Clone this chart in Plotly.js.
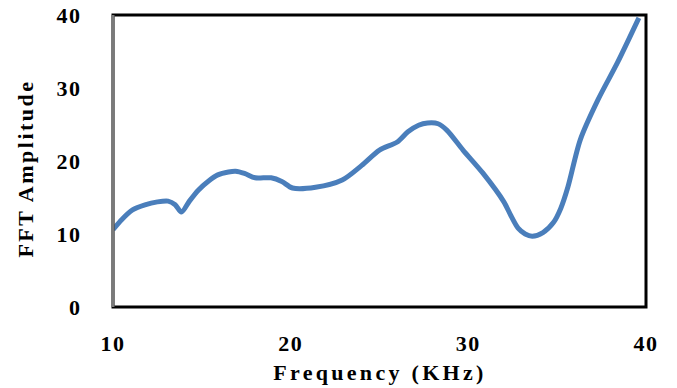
<!DOCTYPE html>
<html>
<head>
<meta charset="utf-8">
<script src="https://cdn.plot.ly/plotly-3.0.1.min.js"></script>
<style>
html,body{margin:0;padding:0;background:#fff;}
#chart{width:677px;height:388px;}
#chart .xtick text{letter-spacing:1.5px;}
#chart .ytick text{letter-spacing:1.5px;}
#chart .annotation-text.xt{letter-spacing:3.3px;}
#chart .annotation-text.yt{letter-spacing:2.5px;}
</style>
</head>
<body>
<div id="chart"></div>
<script>
// Frequency sweep (kHz) and FFT amplitude
const frequency = [10, 10.5, 11.1, 11.8, 12.5, 13.1, 13.5, 13.85, 14.3, 14.8, 15.4, 15.9, 16.5, 16.9, 17.4, 18.0, 18.9, 19.5, 20.1, 21.4, 22.9, 24.0, 25.0, 26.0, 26.6, 27.2, 27.7, 28.3, 28.8, 29.7, 30.8, 32.0, 32.4, 32.8, 33.2, 33.6, 34.2, 34.8, 35.2, 35.6, 36.3, 37.3, 38.4, 39.6];
const amplitude = [10.6, 12.0, 13.3, 14.0, 14.4, 14.5, 14.0, 13.0, 14.5, 16.0, 17.3, 18.1, 18.5, 18.6, 18.3, 17.7, 17.7, 17.2, 16.3, 16.4, 17.4, 19.4, 21.5, 22.6, 24.0, 24.9, 25.2, 25.1, 24.2, 21.5, 18.4, 14.4, 12.5, 10.8, 10.0, 9.7, 10.2, 11.6, 13.5, 16.4, 22.9, 28.4, 33.5, 39.6];
const xTicks = [10, 20, 30, 40];
const yTicks = [0, 10, 20, 30, 40];
const xTitle = 'Frequency (KHz)';
const yTitle = 'FFT Amplitude';

const serif = 'Liberation Serif, Times New Roman, serif';
const tickFont = {family: serif, size: 22, color: '#000', weight: 'bold'};
const titleFont = {family: serif, size: 22, color: '#000', weight: 'bold'};

Plotly.newPlot('chart', [{
  x: frequency,
  y: amplitude,
  mode: 'lines',
  line: {color: '#4a7ebb', width: 5, shape: 'spline', smoothing: 0.8},
  hoverinfo: 'skip'
}], {
  width: 677, height: 388,
  margin: {l: 113, r: 31, t: 15, b: 81},
  paper_bgcolor: '#fff', plot_bgcolor: '#fff',
  showlegend: false,
  xaxis: {
    range: [10, 40], tickvals: xTicks, ticktext: xTicks.map(String),
    showgrid: false, zeroline: false, showline: false,
    ticks: 'outside', ticklen: 17, tickcolor: 'rgba(0,0,0,0)',
    tickfont: tickFont
  },
  yaxis: {
    range: [0, 40], tickvals: yTicks, ticktext: yTicks.map(String),
    showgrid: false, zeroline: false, showline: false,
    ticks: 'outside', ticklen: 26, tickcolor: 'rgba(0,0,0,0)',
    tickfont: tickFont
  },
  annotations: [
    {text: xTitle, xref: 'paper', yref: 'paper', x: 0.5, y: -0.225, xanchor: 'center', yanchor: 'middle',
     showarrow: false, font: titleFont},
    {text: yTitle, xref: 'paper', yref: 'paper', x: -0.165, y: 0.475, xanchor: 'center', yanchor: 'middle',
     textangle: -90, showarrow: false, font: titleFont}
  ],
  shapes: [
    {type: 'rect', xref: 'paper', yref: 'paper', x0: 0, x1: 1, y0: 0, y1: 1,
     line: {color: '#000', width: 3}, layer: 'above'},
    {type: 'line', xref: 'paper', yref: 'paper', x0: 0, x1: 0, y0: 0, y1: 1,
     line: {color: '#7a7a7a', width: 3}, layer: 'above'}
  ]
}, {staticPlot: true}).then(function (gd) {
  const notes = gd.querySelectorAll('.annotation-text');
  if (notes[0]) notes[0].classList.add('xt');
  if (notes[1]) notes[1].classList.add('yt');
});
</script>
</body>
</html>
